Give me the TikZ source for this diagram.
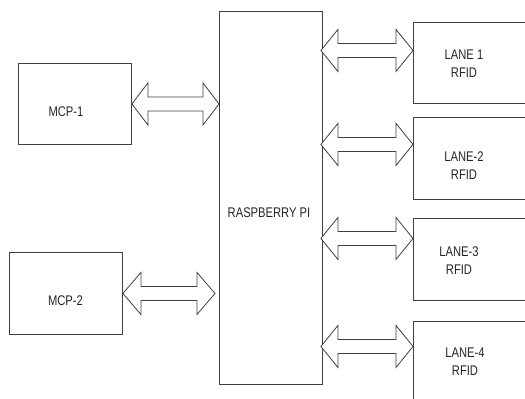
\documentclass[tikz,border=0pt]{standalone}
\usepackage{fontspec}
\setmainfont[FakeStretch=0.8]{Liberation Sans}
\usetikzlibrary{calc}

\tikzset{
  blk/.style={draw=black!75, line width=0.9pt, fill=white, inner sep=0pt, anchor=north west},
  lbl/.style={font=\fontsize{14}{18}\selectfont, text=black!85, align=center, inner sep=0pt},
  darr/.style={draw=black!75, line width=0.8pt, fill=white, line join=miter},
}
\newcommand\dblarrow[3]{% #1 left end, #2 right end, #3 head length
  \draw[darr] let \p1=(#1), \p2=(#2) in
    (\x1,\y1) -- (\x1+#3,\y1+21pt) -- (\x1+#3,\y1+7pt) -- (\x2-#3,\y1+7pt)
    -- (\x2-#3,\y1+21pt) -- (\x2,\y1) -- (\x2-#3,\y1-21pt) -- (\x2-#3,\y1-7pt)
    -- (\x1+#3,\y1-7pt) -- (\x1+#3,\y1-21pt) -- cycle;
}

\begin{document}
\begin{tikzpicture}[x=1pt, y=-1pt]
\useasboundingbox (0,0) rectangle (525,399);
\clip (0,0) rectangle (525,399);

% blocks
\node[blk, minimum width=103, minimum height=373] (rpi) at (219,11) {};
\node[blk, minimum width=113, minimum height=81] (mcp1) at (18,63) {};
\node[blk, minimum width=113, minimum height=82] (mcp2) at (9,252) {};
\node[blk, minimum width=140, minimum height=81] (lane1box) at (413,22) {};
\node[blk, minimum width=140, minimum height=82] (lane2box) at (413,117) {};
\node[blk, minimum width=140, minimum height=82] (lane3box) at (413,218) {};
\node[blk, minimum width=140, minimum height=100] (lane4box) at (413,321) {};

% labels
\node[lbl] (rpit) at (269,213) {RASPBERRY PI};
\node[lbl] (mcp1t) at (66,112) {MCP-1};
\node[lbl] (mcp2t) at (65.5,301) {MCP-2};
\node[lbl] (lane1) at (464,64) {LANE 1\\RFID};
\node[lbl] (lane2) at (464,166) {LANE-2\\RFID};
\node[lbl] (lane3) at (459,260.5) {LANE-3\\RFID};
\node[lbl] (lane4) at (465,362) {LANE-4\\RFID};

% arrow end points
\coordinate (m1r) at (rpi.west |- mcp1.east);
\coordinate (m2r) at ($(rpi.west |- mcp2.east)+(-4,0)$);
\coordinate (l1) at ($(lane1box.west)+(0,-12.5)$);
\coordinate (l2) at ($(lane2box.west)+(0,-14)$);
\coordinate (l3) at ($(lane3box.west)+(0,-21)$);
\coordinate (l4) at ($(lane4box.west)+(0,-25)$);
\coordinate (r1) at ($(rpi.east |- l1)+(-2,0)$);
\coordinate (r2) at ($(rpi.east |- l2)+(-2,0)$);
\coordinate (r3) at ($(rpi.east |- l3)+(-2,0)$);
\coordinate (r4) at ($(rpi.east |- l4)+(-2,0)$);

% connectors
\dblarrow{mcp1.east}{m1r}{16pt}
\dblarrow{mcp2.east}{m2r}{18pt}
\dblarrow{r1}{l1}{17pt}
\dblarrow{r2}{l2}{17pt}
\dblarrow{r3}{l3}{17pt}
\dblarrow{r4}{l4}{17pt}
\end{tikzpicture}
\end{document}
